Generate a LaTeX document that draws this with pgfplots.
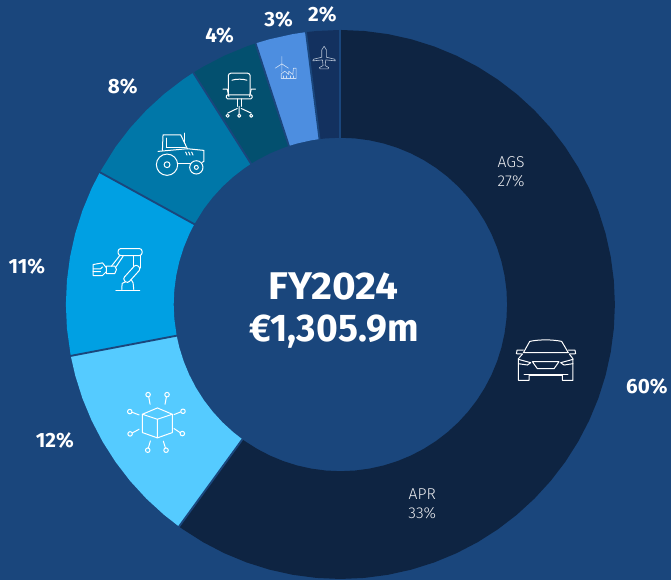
\documentclass[border=0pt]{standalone}
\usepackage{fontspec}
\setmainfont{Fira Sans}
\newfontfamily\lab{Fira Sans}[UprightFont=* Light]
\usepackage{pgfplots}
\pgfplotsset{compat=1.18}
\usepgfplotslibrary{polar}
\definecolor{bg}{HTML}{1A467C}
\definecolor{secA}{HTML}{0E2442}
\definecolor{secB}{HTML}{55CBFF}
\definecolor{secC}{HTML}{00A0E3}
\definecolor{secD}{HTML}{0077A8}
\definecolor{secE}{HTML}{03506F}
\definecolor{secF}{HTML}{4D8EE0}
\definecolor{secG}{HTML}{13315F}
\definecolor{pale}{HTML}{C9DCF4}
\definecolor{palegrey}{HTML}{B4C0D2}
\begin{document}
\begin{tikzpicture}[x=0.75pt,y=-0.75pt,
  pct/.style={text=white,font=\fontsize{15.5}{15.5}\selectfont\bfseries},
  ico/.style={draw=white,line width=0.75pt,line join=round,line cap=round}]
\fill[bg] (0,0) rectangle (672,581);
\coordinate (mid) at (341,305);
\begin{polaraxis}[at={(mid)},anchor=center,scale only axis,width=412.5pt,height=412.5pt,
  hide axis,clip=false,xmin=0,xmax=360,ymin=0,ymax=275]
% 60 percent
\addplot[fill=secA,draw=none] coordinates {(90,275) (85,275) (80,275) (75,275) (70,275) (65,275) (60,275) (55,275) (50,275) (45,275) (40,275) (35,275) (30,275) (25,275) (20,275) (15,275) (10,275) (5,275) (0,275) (355,275) (350,275) (345,275) (340,275) (335,275) (330,275) (325,275) (320,275) (315,275) (310,275) (305,275) (300,275) (295,275) (290,275) (285,275) (280,275) (275,275) (270,275) (265,275) (260,275) (255,275) (250,275) (245,275) (240,275) (235,275) (234,275)
 (234,167) (235,167) (240,167) (245,167) (250,167) (255,167) (260,167) (265,167) (270,167) (275,167) (280,167) (285,167) (290,167) (295,167) (300,167) (305,167) (310,167) (315,167) (320,167) (325,167) (330,167) (335,167) (340,167) (345,167) (350,167) (355,167) (0,167) (5,167) (10,167) (15,167) (20,167) (25,167) (30,167) (35,167) (40,167) (45,167) (50,167) (55,167) (60,167) (65,167) (70,167) (75,167) (80,167) (85,167) (90,167)} -- cycle;
% 12 percent
\addplot[fill=secB,draw=none] coordinates {(234,275) (230,275) (225,275) (220,275) (215,275) (210,275) (205,275) (200,275) (195,275) (190.8,275)
 (190.8,167) (195,167) (200,167) (205,167) (210,167) (215,167) (220,167) (225,167) (230,167) (234,167)} -- cycle;
% 11 percent
\addplot[fill=secC,draw=none] coordinates {(190.8,275) (185,275) (180,275) (175,275) (170,275) (165,275) (160,275) (155,275) (151.2,275)
 (151.2,167) (155,167) (160,167) (165,167) (170,167) (175,167) (180,167) (185,167) (190.8,167)} -- cycle;
% 8 percent
\addplot[fill=secD,draw=none] coordinates {(151.2,275) (145,275) (140,275) (135,275) (130,275) (125,275) (122.4,275)
 (122.4,167) (125,167) (130,167) (135,167) (140,167) (145,167) (151.2,167)} -- cycle;
% 4 percent
\addplot[fill=secE,draw=none] coordinates {(122.4,275) (120,275) (115,275) (110,275) (108,275)
 (108,167) (110,167) (115,167) (120,167) (122.4,167)} -- cycle;
% 3 percent
\addplot[fill=secF,draw=none] coordinates {(108,275) (105,275) (100,275) (97.2,275)
 (97.2,167) (100,167) (105,167) (108,167)} -- cycle;
% 2 percent
\addplot[fill=secG,draw=none] coordinates {(97.2,275) (95,275) (90,275)
 (90,167) (95,167) (97.2,167)} -- cycle;
% gaps between the slices
\addplot[bg,line width=1.4pt] coordinates {(90,160) (90,282)};
\addplot[bg,line width=1.4pt] coordinates {(234,160) (234,282)};
\addplot[bg,line width=1.4pt] coordinates {(190.8,160) (190.8,282)};
\addplot[bg,line width=1.4pt] coordinates {(151.2,160) (151.2,282)};
\addplot[bg,line width=1.4pt] coordinates {(122.4,160) (122.4,282)};
\addplot[bg,line width=1.4pt] coordinates {(108,160) (108,282)};
\addplot[bg,line width=1.4pt] coordinates {(97.2,160) (97.2,282)};
\end{polaraxis}
% centre text
\node[text=white,xscale=1.05,font=\fontsize{29}{29}\selectfont\bfseries] at (334,287) {FY2024};
\node[text=white,xscale=0.965,font=\fontsize{29}{29}\selectfont\bfseries] at (334.5,332) {€1,305.9m};
% percentages
\node[pct] at (648,387) {60\%};
\node[pct] at (55,441) {12\%};
\node[pct] at (27,267) {11\%};
\node[pct] at (123,87) {8\%};
\node[pct] at (220,36) {4\%};
\node[pct] at (279,20) {3\%};
\node[pct] at (323,15) {2\%};
% group labels
\node[text=white!92!secA,align=center,font=\fontsize{11.8}{14}\selectfont\lab] at (512,172) {AGS\\27\%};
\node[text=white!92!secA,align=center,font=\fontsize{11.8}{14}\selectfont\lab] at (423,505) {APR\\33\%};
% car
\begin{scope}[shift={(490,320)},x=0.25pt,y=-0.25pt,ico]
\draw (103,100) -- (122,66) .. controls (150,60) and (190,60) .. (218,66) -- (238,100) -- cycle;
\draw (103,92) -- (84,92) -- (82,103) -- (100,104);
\draw (238,92) -- (258,92) -- (260,103) -- (241,104);
\draw (100,104) -- (88,118) -- (88,183) -- (120,183) -- (120,168) -- (220,168) -- (220,183) -- (252,183) -- (252,118) -- (241,104);
\draw (88,120) -- (125,130) -- (115,137) -- (88,133);
\draw (252,120) -- (215,130) -- (225,137) -- (252,133);
\draw (130,127) -- (210,127) -- (195,148) -- (145,148) -- cycle;
\draw (105,166) -- (237,166);
\end{scope}
% chair
\begin{scope}[shift={(180,0)},x=0.25pt,y=-0.25pt,ico]
\draw[rounded corners=2pt] (146,283) -- (146,220) -- (212,220) -- (212,283);
\draw (157,241) .. controls (170,237) and (190,237) .. (202,241);
\draw (130,268) -- (143,268) -- (148,290);
\draw (228,268) -- (215,268) -- (210,290);
\draw[rounded corners=1pt] (140,285) rectangle (218,297);
\draw (173,297) -- (173,320) (185,297) -- (185,320);
\draw (144,340) -- (173,326) (215,340) -- (185,326) (179,320) -- (179,342);
\draw (144,348) circle[radius=1.2pt] (179,348) circle[radius=1.2pt] (215,348) circle[radius=1.2pt];
\end{scope}
% tractor
\begin{scope}[shift={(145,120)},x=0.25pt,y=-0.25pt,ico]
\draw (67,135) circle[radius=8pt] (67,135) circle[radius=2.2pt];
\draw (155,143) circle[radius=5pt] (155,143) circle[radius=1.5pt];
\draw (53,92) -- (55,45) -- (108,45) -- (128,87);
\draw (65,82) -- (65,55) (65,82) -- (122,82);
\draw (118,40) -- (118,70);
\draw (40,95) -- (128,87) -- (178,92) -- (178,125) -- (172,128);
\draw (100,130) -- (137,130);
\draw (123,97) -- (127,106) (132,97) -- (136,106) (141,97) -- (145,106);
\end{scope}
% robot arm
\begin{scope}[shift={(60,170)},x=0.25pt,y=-0.25pt,ico]
\draw (168,362) -- (240,362);
\draw (186,360) -- (187,342) -- (197,337) (222,360) -- (220,340) -- (214,330);
\draw[rotate around={48:(216,313)},rounded corners=2pt] (186,303) rectangle (246,323);
\draw[rounded corners=2pt] (175,237) rectangle (247,258);
\draw (222,258) -- (222,290) (243,258) -- (243,295);
\draw (180,258) -- (155,290) (190,260) -- (168,293);
\draw (140,290) -- (165,290) -- (170,300) -- (165,312) -- (140,312) -- cycle;
\draw (140,295) -- (128,280) -- (100,285) -- (100,318) -- (128,318) -- (140,306);
\draw (100,298) -- (122,298) -- (128,292) (100,306) -- (122,306);
\end{scope}
% cube
\begin{scope}[shift={(60,330)},x=0.25pt,y=-0.25pt,ico]
\draw (248,255) -- (293,236) -- (338,255) -- (293,270) -- cycle;
\draw (248,255) -- (248,310) -- (293,326) -- (338,310) -- (338,255) (293,270) -- (293,326);
\draw (265,196) circle[radius=1.7pt] (322,196) circle[radius=1.7pt] (210,247) circle[radius=1.7pt] (370,246) circle[radius=1.7pt] (211,314) circle[radius=1.7pt] (368,313) circle[radius=1.7pt] (264,363) circle[radius=1.7pt] (319,363) circle[radius=1.7pt];
\draw (267,203) -- (271,225) (320,203) -- (316,225) (217,249) -- (238,257) (363,248) -- (343,256) (218,311) -- (238,300) (361,310) -- (343,298) (266,356) -- (272,335) (317,356) -- (311,336);
\end{scope}
% turbine and factory
\begin{scope}[shift={(180,0)},x=0.25pt,y=-0.25pt,ico,draw=pale,line width=0.5pt]
\draw (307,192) -- (307,215) (307,192) -- (307,170) (307,192) -- (287,205) (307,192) -- (327,205);
\draw (305,236) -- (350,236) -- (350,205) -- (342,205) -- (340,224) -- (328,214) -- (328,224) -- (316,214) -- (305,222) -- cycle;
\draw (312,228) -- (312,234) (322,228) -- (322,234) (332,228) -- (332,234) (342,228) -- (342,234);
\end{scope}
% plane
\begin{scope}[shift={(180,0)},x=0.25pt,y=-0.25pt,ico,draw=palegrey,line width=0.45pt]
\draw (427,172) -- (427,150) -- (434,139) -- (441,150) -- (441,172) -- (466,178) -- (468,183) -- (439,180) -- (437,197) -- (448,203) -- (446,207) -- (422,207) -- (420,203) -- (431,197) -- (429,180) -- (400,183) -- (402,178) -- cycle;
\end{scope}
\end{tikzpicture}
\end{document}
